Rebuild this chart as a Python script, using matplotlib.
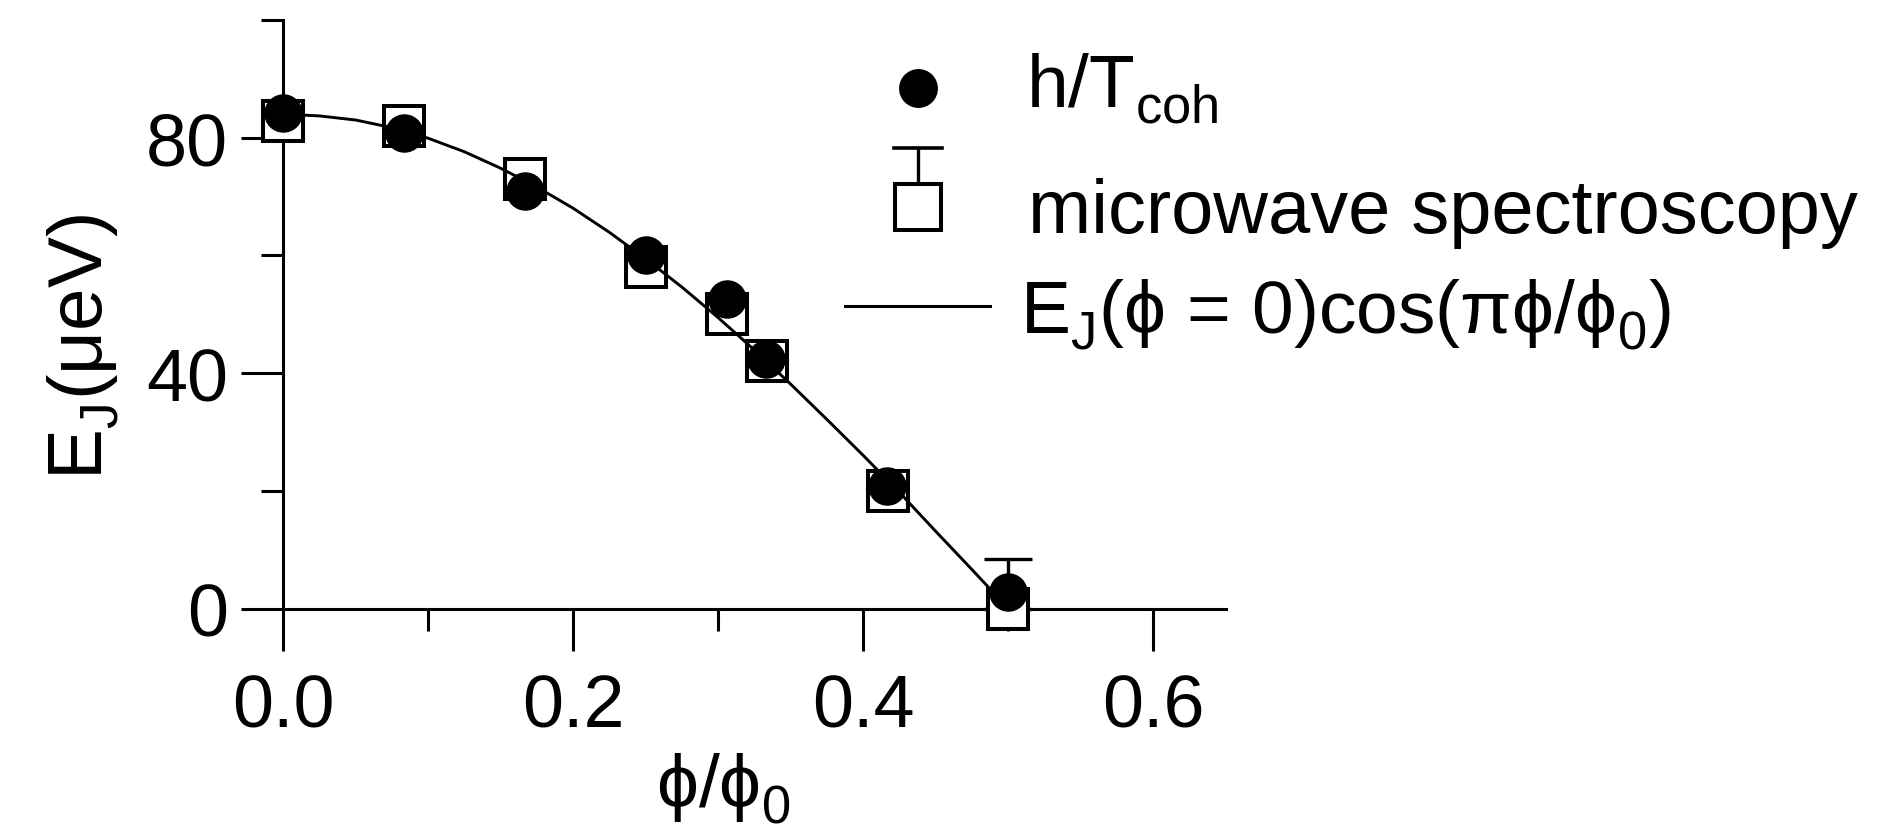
import matplotlib
matplotlib.use("Agg")
import numpy as np
import matplotlib.pyplot as plt
from matplotlib.lines import Line2D
from matplotlib.ticker import FixedLocator

try:
    import matplotlib._mathtext as _mt
    _mt.FontConstantsBase.sub1 = 0.42
    _mt.FontConstantsBase.sub2 = 0.5
except Exception:
    pass

plt.rcParams['font.family'] = ['Liberation Sans', 'DejaVu Sans']
plt.rcParams['mathtext.fontset'] = 'custom'
plt.rcParams['mathtext.rm'] = 'Liberation Sans'
plt.rcParams['mathtext.it'] = 'Liberation Sans:italic'
plt.rcParams['mathtext.bf'] = 'Liberation Sans:bold'
plt.rcParams['mathtext.fallback'] = 'stixsans'

# ---- data ----
phi_coh = [0.0, 0.0833, 0.1665, 0.2499, 0.3058, 0.3327, 0.4163, 0.4998]
ej_coh = [84.2, 80.8, 71.0, 60.1, 52.6, 42.4, 20.8, 2.8]

phi_mw = [0.0, 0.0833, 0.1667, 0.2500, 0.3058, 0.3333, 0.4167, 0.5000]
ej_mw = [82.9, 82.0, 72.9, 58.0, 50.0, 42.0, 20.0, 0.0]
ej_mw_err_up = [0, 0, 0, 0, 0, 0, 0, 8.4]

phi_fit = [0.0, 0.025, 0.05, 0.075, 0.10, 0.125, 0.15, 0.175, 0.20, 0.225,
           0.25, 0.275, 0.30, 0.325, 0.35, 0.375, 0.40, 0.425, 0.45, 0.475, 0.50]
ej_fit = [84.0, 83.7, 83.0, 81.7, 79.9, 77.6, 74.8, 71.6, 68.0, 63.9,
          59.4, 54.6, 49.4, 43.9, 38.1, 32.1, 26.0, 19.7, 13.1, 6.6, 0.0]

x_major = [0.0, 0.2, 0.4, 0.6]
x_minor = [0.1, 0.3, 0.5]
y_major = [0, 40, 80]
y_minor = [20, 60, 100]

label_coh = r'h/T$_\mathregular{coh}$'
label_mw = 'microwave spectroscopy'
label_fit = r'E$_\mathregular{J}$(ϕ = 0)cos(πϕ/ϕ$_\mathregular{0}$)'
xlabel = r'ϕ/ϕ$_\mathregular{0}$'
ylabel = r'E$_\mathregular{J}$(μeV)'

W, H = 1902, 828
fig = plt.figure(figsize=(W / 100, H / 100), dpi=100)
ax = fig.add_axes([283.3 / W, (H - 609.5) / H, 942.5 / W, 588.5 / H])

lw_axis = 2.2
ax.set_xlim(0, 0.65)
ax.set_ylim(0, 100)
for s in ('top', 'right'):
    ax.spines[s].set_visible(False)
for s in ('left', 'bottom'):
    ax.spines[s].set_linewidth(lw_axis)
    ax.spines[s].set_zorder(1.6)

ax.xaxis.set_major_locator(FixedLocator(x_major))
ax.xaxis.set_minor_locator(FixedLocator(x_minor))
ax.yaxis.set_major_locator(FixedLocator(y_major))
ax.yaxis.set_minor_locator(FixedLocator(y_minor))
ax.set_xticklabels([f'{v:.1f}' for v in x_major])
ax.set_yticklabels([f'{v:d}' for v in y_major])
ax.tick_params(axis='both', which='major', direction='out', length=30.2,
               width=lw_axis, labelsize=53)
ax.tick_params(axis='both', which='minor', direction='out', length=15.5,
               width=lw_axis)
ax.tick_params(axis='x', which='major', pad=16)
ax.tick_params(axis='y', which='major', pad=9.6)
for t in ax.xaxis.get_major_ticks() + ax.yaxis.get_major_ticks() + \
        ax.xaxis.get_minor_ticks() + ax.yaxis.get_minor_ticks():
    t.tick1line.set_clip_on(False)

# squares (white filled)
ax.plot(phi_mw, ej_mw, linestyle='none', marker='s', markersize=29.5,
        markerfacecolor='white', markeredgecolor='black', markeredgewidth=2.9,
        clip_on=False, zorder=3)
# upper error bars (only where non-zero)
err = np.array(ej_mw_err_up)
mask = err > 0
ax.errorbar(np.array(phi_mw)[mask], np.array(ej_mw)[mask],
            yerr=[np.zeros(mask.sum()), err[mask]], fmt='none', ecolor='black',
            elinewidth=2.4, capsize=17.6, capthick=2.4, clip_on=False, zorder=2.9)
# fitted curve
ax.plot(phi_fit, ej_fit, color='black', linewidth=2.1, clip_on=False, zorder=4)
# circles
ax.plot(phi_coh, ej_coh, linestyle='none', marker='o', markersize=27.7,
        markerfacecolor='black', markeredgewidth=0, clip_on=False, zorder=5)

# axis labels
ax.set_xlabel(xlabel, fontsize=54, va='baseline', ha='center')
ax.xaxis.set_label_coords(0.4665, -0.3356)
ax.set_ylabel(ylabel, fontsize=55, va='baseline', ha='center',
              rotation_mode='anchor')
ax.yaxis.set_label_coords(-0.1913, 0.4452)

# legend drawn in figure pixel coordinates
def fx(px):
    return px / W

def fy(py):
    return 1 - py / H

fig.add_artist(Line2D([fx(917.7)], [fy(89.3)], marker='o', markersize=28,
                      markerfacecolor='black', markeredgewidth=0, linestyle='none'))
fig.text(fx(1026), fy(106.7), label_coh, fontsize=54, ha='left', va='baseline')

fig.add_artist(Line2D([fx(917.7), fx(917.7)], [fy(149), fy(184)], color='black',
                      linewidth=2.4))
fig.add_artist(Line2D([fx(893.5), fx(942)], [fy(149), fy(149)], color='black',
                      linewidth=2.6))
fig.add_artist(Line2D([fx(917.7)], [fy(208)], marker='s', markersize=33,
                      markerfacecolor='white', markeredgecolor='black',
                      markeredgewidth=2.9, linestyle='none'))
fig.text(fx(1028), fy(232.7), label_mw, fontsize=54.5, ha='left', va='baseline')

fig.add_artist(Line2D([fx(845), fx(990)], [fy(306.7), fy(306.7)], color='black',
                      linewidth=2.2))
fig.text(fx(1020), fy(333.3), label_fit, fontsize=54, ha='left', va='baseline')

fig.savefig('out.png', dpi=100)
